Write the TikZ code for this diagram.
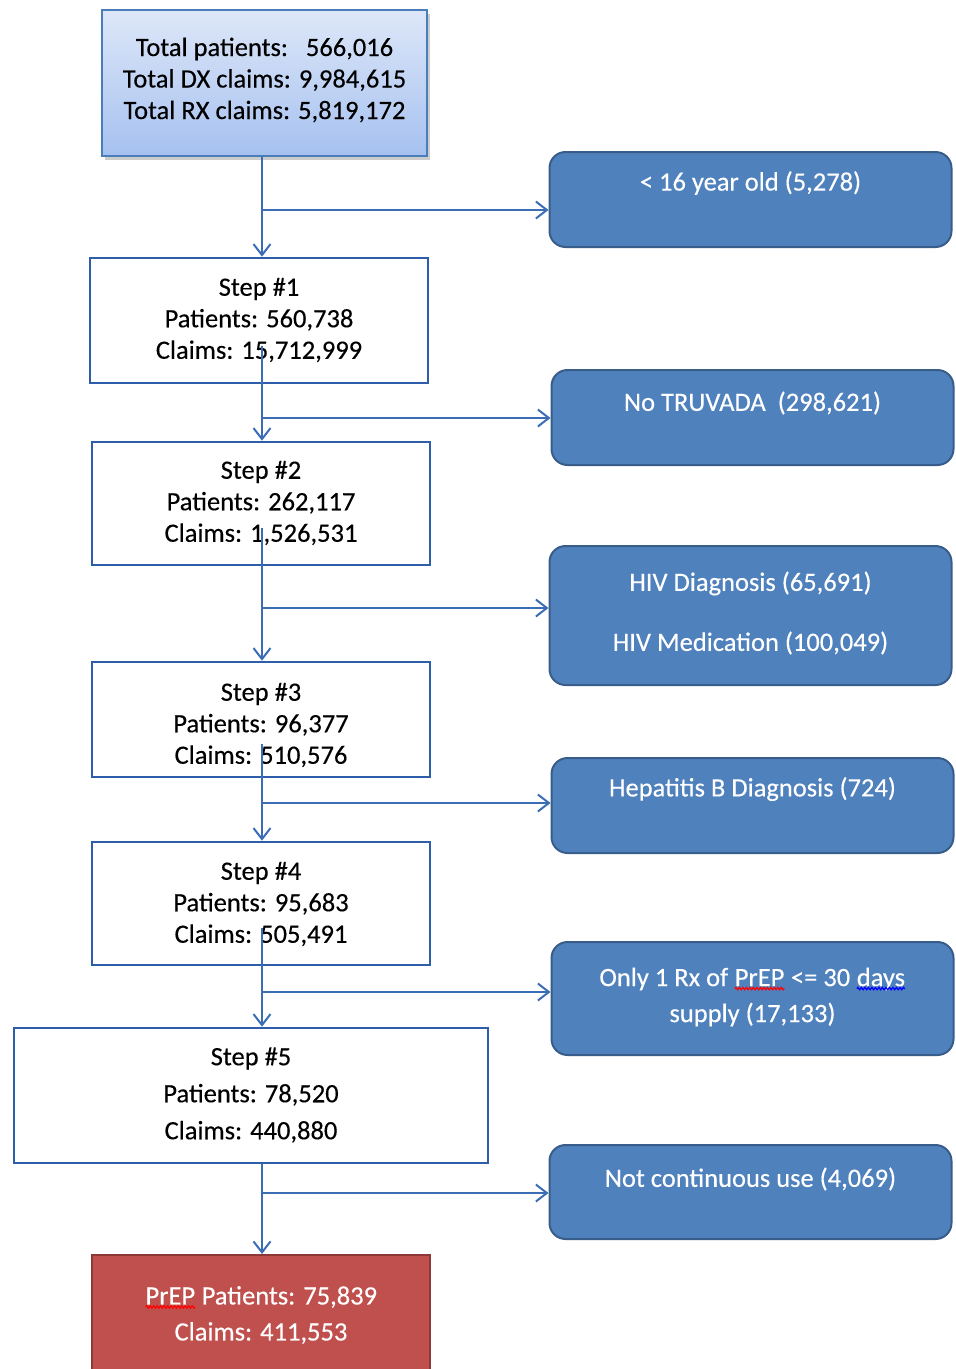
\documentclass[tikz,border=0pt]{standalone}
\usepackage{fontspec}
\setmainfont{Carlito}[FakeBold=0.3]
\usetikzlibrary{arrows.meta,shadows,decorations.pathmorphing}
\definecolor{linecol}{HTML}{3B6DB5}
\definecolor{stepcol}{HTML}{2E5DAA}
\definecolor{bluefill}{HTML}{4F81BD}
\definecolor{blueedge}{HTML}{385D8A}
\definecolor{redfill}{HTML}{C0504D}
\definecolor{rededge}{HTML}{8C3836}
\definecolor{topA}{HTML}{DDE7F8}
\definecolor{topB}{HTML}{A6C1F0}
\definecolor{topedge}{HTML}{4A7EBB}
\newcommand\spellmark[2]{\tikz[baseline=(w.base)]{\node[inner sep=0pt,outer sep=0pt](w){#2};\draw[#1,line width=1.2pt,decorate,decoration={snake,amplitude=1.2pt,segment length=3.5pt}] ([yshift=-2.5pt]w.base west)--([yshift=-2.5pt]w.base east);}}
\tikzset{
  txt/.style={font=\fontsize{26.5}{31.5}\selectfont, inner sep=0pt, align=center},
  wtxt/.style={txt, text=white},
  stepbox/.style={draw=stepcol, line width=2.6pt, fill=white, inner sep=0pt},
  rejbox/.style={draw=blueedge, line width=2pt, fill=bluefill, rounded corners=16pt, inner sep=0pt, minimum width=402pt},
  topbox/.style={draw=topedge, line width=1.6pt, top color=topA, bottom color=topB, inner sep=0pt, drop shadow={shadow xshift=3pt, shadow yshift=-4pt, fill=black!40}},
  finbox/.style={draw=rededge, line width=2pt, fill=redfill, inner sep=0pt},
  conn/.style={draw=linecol, line width=2pt, -{Straight Barb[length=11pt,width=17pt]}}
}
\begin{document}
\begin{tikzpicture}[x=1pt,y=-1pt]
\useasboundingbox (0,0) rectangle (956,1369);
\clip (0,0) rectangle (956,1369);
\coordinate (sp) at (262,0);
% top box
\node[topbox, minimum width=325pt, minimum height=146pt] (top) at (264.5,83) {};
\node[txt] (topt) at (264.5,80) {Total patients:\ \ \ 566,016\\Total DX claims: 9,984,615\\Total RX claims: 5,819,172};
% step boxes
\node[stepbox, minimum width=338pt, minimum height=125pt] (s1) at (259,320.5) {};
\node[txt] (s1t) at (259,320) {Step \#1\\Patients: 560,738\\Claims: 15,712,999};
\node[stepbox, minimum width=338pt, minimum height=123pt] (s2) at (261,503.5) {};
\node[txt] (s2t) at (261,503) {Step \#2\\Patients: 262,117\\Claims: 1,526,531};
\node[stepbox, minimum width=338pt, minimum height=115pt] (s3) at (261,719.5) {};
\node[txt] (s3t) at (261,725) {Step \#3\\Patients: 96,377\\Claims: 510,576};
\node[stepbox, minimum width=338pt, minimum height=123pt] (s4) at (261,903.5) {};
\node[txt] (s4t) at (261,904) {Step \#4\\Patients: 95,683\\Claims: 505,491};
\node[stepbox, minimum width=474pt, minimum height=135pt] (s5) at (251,1095.5) {};
\node[txt, font=\fontsize{26.5}{37}\selectfont] (s5t) at (251,1095) {Step \#5\\Patients: 78,520\\Claims: 440,880};
\node[finbox, minimum width=338pt, minimum height=150pt, anchor=north] (fin) at (261,1254) {};
\node[wtxt, font=\fontsize{26.5}{36}\selectfont] (fint) at (261,1315) {\spellmark{red}{PrEP} Patients: 75,839\\Claims: 411,553};
% rejection boxes
\node[rejbox, minimum height=95pt] (b1) at (750.5,199.5) {};
\node[wtxt] (b1t) at (750.5,183) {< 16 year old (5,278)};
\node[rejbox, minimum height=95pt] (b2) at (752.5,417.5) {};
\node[wtxt] (b2t) at (752.5,403) {No TRUVADA\ \ (298,621)};
\node[rejbox, minimum height=139pt] (b3) at (750.5,615.5) {};
\node[wtxt, font=\fontsize{26.5}{60}\selectfont] (b3t) at (750.5,613) {HIV Diagnosis (65,691)\\HIV Medication (100,049)};
\node[rejbox, minimum height=95pt] (b4) at (752.5,805.5) {};
\node[wtxt] (b4t) at (752.5,789) {Hepatitis B Diagnosis (724)};
\node[rejbox, minimum height=113pt] (b5) at (752.5,998.5) {};
\node[wtxt, font=\fontsize{26.5}{36}\selectfont] (b5t) at (752.5,997) {Only 1 Rx of \spellmark{red}{PrEP} <= 30 \spellmark{blue}{days}\\supply (17,133)};
\node[rejbox, minimum height=94pt] (b6) at (750.5,1192) {};
\node[wtxt] (b6t) at (750.5,1179) {Not continuous use (4,069)};
% junctions
\coordinate (j1) at (262,210);
\coordinate (j2) at (262,418);
\coordinate (j3) at (262,608);
\coordinate (j4) at (262,803);
\coordinate (j5) at (262,992);
\coordinate (j6) at (262,1193);
% vertical connectors
\draw[conn] (top.south -| sp) -- (s1.north -| sp);
\draw[conn] ([yshift=38pt]s1.south -| sp) -- (s2.north -| sp);
\draw[conn] ([yshift=38pt]s2.south -| sp) -- (s3.north -| sp);
\draw[conn] ([yshift=34pt]s3.south -| sp) -- (s4.north -| sp);
\draw[conn] ([yshift=38pt]s4.south -| sp) -- (s5.north -| sp);
\draw[conn] (s5.south -| sp) -- (fin.north -| sp);
% branch connectors
\draw[conn] (j1) -- (j1 -| b1.west);
\draw[conn] (j2) -- (j2 -| b2.west);
\draw[conn] (j3) -- (j3 -| b3.west);
\draw[conn] (j4) -- (j4 -| b4.west);
\draw[conn] (j5) -- (j5 -| b5.west);
\draw[conn] (j6) -- (j6 -| b6.west);
\end{tikzpicture}
\end{document}
